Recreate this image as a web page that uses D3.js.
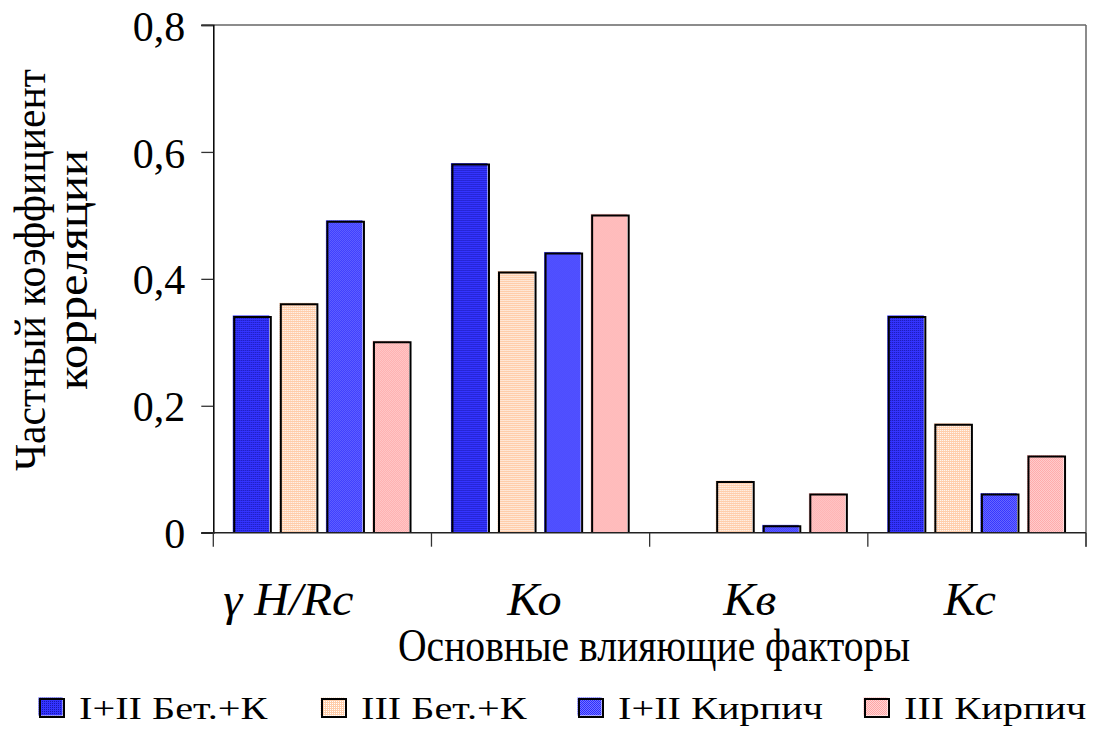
<!DOCTYPE html>
<html>
<head>
<meta charset="utf-8">
<script src="https://cdn.jsdelivr.net/npm/d3@7"></script>
<style>
  body { margin: 0; background: #fff; }
</style>
</head>
<body>
<svg id="chart" width="1098" height="737"></svg>
<script>
// factors on the x axis
var categories = ["γ H/Rc", "Ко", "Кв", "Кс"];
var seriesNames = ["I+II Бет.+К", "III Бет.+К", "I+II Кирпич", "III Кирпич"];
// one array per series, in category order
var betonI_II = [0.34, 0.58, 0, 0.34];
var betonIII = [0.36, 0.41, 0.08, 0.17];
var kirpichI_II = [0.49, 0.44, 0.01, 0.06];
var kirpichIII = [0.30, 0.50, 0.06, 0.12];
var yTicks = [0, 0.2, 0.4, 0.6, 0.8];
var yTickLabels = ["0", "0,2", "0,4", "0,6", "0,8"];

var allSeries = [betonI_II, betonIII, kirpichI_II, kirpichIII];
var patternIds = ["p1", "p2", "p3", "p4"];
var FONT = "'Liberation Serif'";

var margin = { top: 25, left: 213.3, right: 12, bottom: 204.3 };
var width = 1098, height = 737;

var svg = d3.select("#chart");
var defs = svg.append("defs");

// the original text is a bit wider than plain Times, stretch to fit
function stretch(sel, k) {
  sel.each(function () {
    var n = this.getComputedTextLength();
    d3.select(this).attr("textLength", n * k).attr("lengthAdjust", "spacingAndGlyphs");
  });
}

// little pixel patterns like the old excel fills
function pattern(id, size, bg, cells) {
  var p = defs.append("pattern").attr("id", id)
    .attr("patternUnits", "userSpaceOnUse")
    .attr("width", size).attr("height", size);
  p.append("rect").attr("width", size).attr("height", size).attr("fill", bg);
  cells.forEach(function (c) {
    p.append("rect").attr("x", c[0]).attr("y", c[1]).attr("width", 1).attr("height", 1).attr("fill", c[2]);
  });
}
pattern("p1", 2, "#3434ff", [[0, 0, "#1818b0"]]);
pattern("p2", 2, "#ffcdaa", [[0, 0, "#ffffff"]]);
pattern("p3", 2, "#2a2aff", [[1, 0, "#7474ff"], [0, 1, "#7474ff"]]);
pattern("p4", 2, "#ffa4a4", [[1, 0, "#ffd4d4"], [0, 1, "#ffd4d4"]]);

var x0 = d3.scaleBand().domain(categories)
  .range([margin.left, width - margin.right]).paddingInner(0).paddingOuter(0);
var x1 = d3.scaleBand().domain(d3.range(4))
  .range([0, x0.bandwidth()]).paddingInner(0.215).paddingOuter(0.45);
var y = d3.scaleLinear().domain([0, 0.8]).range([height - margin.bottom, margin.top]);

var plotRight = width - margin.right;
var base = y(0);

// frame (top and right, grey)
svg.append("line").attr("x1", margin.left - 12).attr("x2", plotRight)
  .attr("y1", y(0.8)).attr("y2", y(0.8)).attr("stroke", "#666").attr("stroke-width", 1.5);
svg.append("line").attr("x1", plotRight).attr("x2", plotRight)
  .attr("y1", y(0.8)).attr("y2", base + 14).attr("stroke", "#666").attr("stroke-width", 1.5);

// bars
var groups = svg.append("g").selectAll("g").data(categories).enter().append("g")
  .attr("transform", function (d) { return "translate(" + x0(d) + ",0)"; });

groups.each(function (cat, ci) {
  var g = d3.select(this);
  allSeries.forEach(function (s, si) {
    var v = s[ci];
    if (!v) return;
    var bx = x1(si), bw = x1.bandwidth(), by = y(v);
    g.append("rect").attr("x", bx - 1.5).attr("y", by - 1.5)
      .attr("width", bw).attr("height", base - by + 1.5)
      .attr("fill", "url(#" + patternIds[si] + ")");
    g.append("path")
      .attr("d", "M" + bx + "," + base + "V" + by + "H" + (bx + bw) + "V" + base)
      .attr("fill", "none").attr("stroke", "#000").attr("stroke-width", 2);
  });
});

// y axis
var yAxis = d3.axisLeft(y).tickValues(yTicks)
  .tickFormat(function (d, i) { return yTickLabels[i]; })
  .tickSize(12).tickPadding(16);
var ya = svg.append("g").attr("transform", "translate(" + margin.left + ",0)").call(yAxis);
ya.attr("font-family", null);
ya.select(".domain").attr("stroke", "#000").attr("stroke-width", 1.5);
ya.selectAll(".tick line").attr("stroke", "#333").attr("stroke-width", 1.3);
ya.selectAll(".tick text").style("font-family", FONT).style("font-size", "42px")
  .attr("fill", "#000").attr("dy", "0.36em");

// x axis
var xa = svg.append("g").attr("transform", "translate(0," + base + ")")
  .call(d3.axisBottom(x0).tickSize(0).tickPadding(0).tickFormat(""));
xa.select(".domain").attr("d", "M" + (margin.left - 12) + ",0H" + plotRight)
  .attr("stroke", "#222").attr("stroke-width", 1.5);
xa.selectAll(".tick").remove();
xa.selectAll(".sep").data(categories.concat(["end"])).enter().append("line")
  .attr("class", "sep")
  .attr("x1", function (d, i) { return margin.left + i * x0.bandwidth(); })
  .attr("x2", function (d, i) { return margin.left + i * x0.bandwidth(); })
  .attr("y1", 0).attr("y2", 14).attr("stroke", "#333").attr("stroke-width", 1.3);

// category labels
var catShift = [-34, -6, -9, -7];
var cl = svg.append("g").selectAll("text").data(categories).enter().append("text")
  .attr("x", function (d, i) { return x0(d) + x0.bandwidth() / 2 + catShift[i]; })
  .attr("y", 615)
  .attr("text-anchor", "middle")
  .style("font-family", FONT)
  .style("font-size", "46px").style("font-style", "italic")
  .text(function (d) { return d; });
stretch(cl, 1.05);

// axis titles
var xt = svg.append("text").attr("x", 654).attr("y", 661).attr("text-anchor", "middle")
  .style("font-family", FONT)
  .style("font-size", "46px").text("Основные влияющие факторы");
xt.attr("textLength", 512).attr("lengthAdjust", "spacingAndGlyphs");

var yt = svg.append("g").attr("transform", "translate(0,270) rotate(-90)");
yt.append("text").attr("x", 0).attr("y", 45).attr("text-anchor", "middle")
  .style("font-family", FONT).style("font-size", "44px")
  .attr("textLength", 402).attr("lengthAdjust", "spacingAndGlyphs")
  .text("Частный коэффициент");
yt.append("text").attr("x", 0).attr("y", 87).attr("text-anchor", "middle")
  .style("font-family", FONT).style("font-size", "44px")
  .attr("textLength", 240).attr("lengthAdjust", "spacingAndGlyphs")
  .text("корреляции");

// legend
var legendX = [40, 322, 579, 865];
var leg = svg.append("g").selectAll("g").data(seriesNames).enter().append("g")
  .attr("transform", function (d, i) { return "translate(" + legendX[i] + ",699)"; });
leg.append("rect").attr("x", -1.5).attr("y", -1.5).attr("width", 24).attr("height", 18)
  .attr("fill", function (d, i) { return "url(#" + patternIds[i] + ")"; });
leg.append("rect").attr("width", 24).attr("height", 18)
  .attr("fill", "none").attr("stroke", "#000").attr("stroke-width", 2);
var lt = leg.append("text").attr("x", 39).attr("y", 20)
  .style("font-family", FONT).style("font-size", "31px")
  .text(function (d) { return d; });
stretch(lt, 1.3);
</script>
</body>
</html>
